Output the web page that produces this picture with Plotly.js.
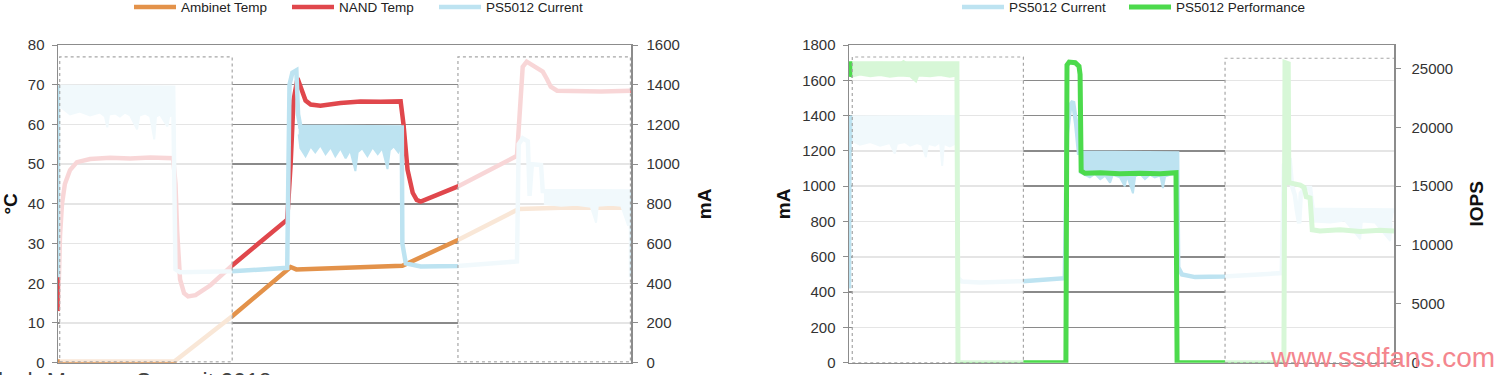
<!DOCTYPE html>
<html>
<head>
<meta charset="utf-8">
<script src="https://cdn.plot.ly/plotly-3.0.1.min.js"></script>
<style>html,body{margin:0;padding:0;background:#fff;}#chart{width:1499px;height:375px;}</style>
</head>
<body>
<div id="chart"></div>
<script>
// ---------- Left chart: temperatures (°C) and controller current (mA) ----------
const ambT = [0, 7.3, 14.3, 20.3, 30.4, 40.6, 41.6, 51.0, 60.1, 69.8, 80.4, 87.8, 100];
const ambV = [0.3, 0.2, 0.3, 0.3, 11.7, 24.1, 23.5, 24.0, 24.4, 30.9, 38.7, 39.0, 39.0];

const nandT = [0, 0.1, 0.35, 0.7, 1.2, 2.1, 3.3, 5.6, 9.1, 12.6, 16.1, 20.1, 20.5, 20.8, 21.3, 22.0, 22.7, 24.0, 26.6, 30.4,
  40.0, 40.6, 41.1, 41.8, 42.5, 43.2, 44.1, 45.8, 49.3, 52.8, 56.3, 59.8, 60.3, 61.0, 61.9, 62.6, 63.3, 65.9, 69.8,
  80.1, 80.6, 81.1, 81.8, 83.4, 84.6, 85.3, 86.0, 87.1, 94.8, 100];
const nandV = [13, 22, 32, 40, 45, 48.5, 50.5, 51.3, 51.6, 51.4, 51.7, 51.5, 45, 33, 21, 17.5, 16.7, 17.0, 19.5, 24.5,
  36, 50, 66, 71.6, 68.5, 66, 65, 64.7, 65.4, 65.8, 65.7, 65.8, 60, 48.6, 42.8, 41, 40.6, 42, 44.4,
  52.1, 65, 74.5, 75.8, 74.5, 73.3, 71.5, 69.5, 68.5, 68.3, 68.5];

const curT = [0, 0.1, 0.35, 20.1, 20.3, 20.5, 21.3, 30.4, 40.0, 40.4, 40.9, 41.6, 41.9, 42.3, 60.0, 60.1, 60.7, 63.3, 69.8,
  80.1, 80.4, 81.1, 82.0, 82.2, 82.3, 82.7, 84.3, 84.6, 100, 100];
const curV = [430, 1380, 1388, 1385, 900, 470, 455, 460, 478, 1400, 1460, 1472, 1250, 1188, 1185, 600, 500, 485, 487,
  510, 1100, 1130, 1115, 1000, 840, 1000, 995, 865, 862, 430];

// noise envelopes of the current trace (lower / upper edge)
const curBandA_loT = [0.35, 2.1, 3.8, 5.6, 7.3, 8.2, 8.6, 8.9, 10.0, 10.8, 11.7, 12.6, 13.8, 14.2, 15.2, 16.1, 16.8, 17.1, 17.8, 19.1, 19.4, 20.1];
const curBandA_loV = [1290, 1250, 1265, 1245, 1260, 1240, 1185, 1250, 1255, 1240, 1260, 1245, 1175, 1245, 1255, 1240, 1125, 1240, 1250, 1190, 1240, 1250];
const curBandA_hiT = [0.35, 7.3, 14.3, 20.1];
const curBandA_hiV = [1388, 1385, 1390, 1385];

const curBandB_loT = [42.0, 42.3, 43.2, 44.1, 44.9, 45.8, 46.7, 47.6, 48.4, 49.3, 50.2, 51.0, 51.9, 52.3, 53.1, 54.0, 54.9, 55.8, 56.6, 57.5, 57.9, 58.6, 59.4, 60.0];
const curBandB_loV = [1150, 1080, 1040, 1090, 1060, 1095, 1050, 1085, 1040, 1080, 1030, 1070, 965, 1060, 1080, 1040, 1085, 1050, 1080, 975, 1070, 1090, 1060, 1100];
const curBandB_hiT = [42.0, 46, 51, 56, 60.0];
const curBandB_hiV = [1188, 1185, 1190, 1185, 1185];

const curBandC_loT = [84.8, 87.8, 90.4, 93.0, 93.9, 94.2, 96.5, 98.3, 99.5, 99.8];
const curBandC_loV = [800, 790, 795, 785, 705, 790, 795, 790, 690, 790];
const curBandC_hiT = [84.8, 92, 100];
const curBandC_hiV = [866, 862, 862];

// ---------- Right chart: controller current (mA) and performance (IOPS) ----------
const rCurT = [0, 0.1, 0.4, 19.8, 20.0, 20.7, 24.0, 31.9, 39.6, 40.0, 40.6, 41.1, 41.7, 42.2, 60.2, 60.4, 61.1, 63.5, 68.8,
  79.4, 79.8, 80.9, 81.3, 81.8, 82.2, 82.6, 82.9, 83.7, 84.6, 85.1, 100];
const rCurV = [420, 1380, 1388, 1390, 480, 460, 455, 462, 479, 1300, 1460, 1480, 1350, 1190, 1185, 540, 500, 485, 488,
  508, 1120, 1140, 1000, 950, 860, 790, 960, 990, 990, 866, 862];

const rBandA_loT = [0.4, 2.0, 3.9, 5.7, 7.5, 8.4, 8.8, 10.3, 11.2, 12.5, 13.4, 14.1, 14.5, 15.8, 16.7, 17.1, 17.4, 18.5, 19.8];
const rBandA_loV = [1260, 1235, 1250, 1230, 1245, 1185, 1240, 1250, 1230, 1245, 1235, 1165, 1240, 1230, 1250, 1115, 1240, 1225, 1245];
const rBandA_hiT = [0.4, 10, 19.8];
const rBandA_hiV = [1388, 1385, 1390];

const rBandB_loT = [42.2, 44.2, 45.1, 46.1, 47.0, 47.9, 48.4, 49.7, 50.6, 51.0, 52.1, 52.5, 53.4, 54.3, 55.2, 56.1, 57.1, 57.6, 58.0, 58.9, 60.2];
const rBandB_loV = [1080, 1050, 1070, 1040, 1060, 1020, 1065, 1050, 1000, 1060, 960, 1055, 1070, 1040, 1065, 1050, 1060, 990, 1055, 1065, 1070];
const rBandB_hiT = [42.2, 50, 60.2];
const rBandB_hiV = [1190, 1185, 1185];

const rBandC_loT = [85.1, 88.3, 91.0, 93.8, 94.1, 96.5, 99.3, 99.6];
const rBandC_loV = [800, 795, 805, 700, 800, 795, 690, 790];
const rBandC_hiT = [85.1, 92, 100];
const rBandC_hiV = [866, 862, 862];

const perfT = [0, 0.4, 19.8, 20.0, 39.8, 40.0, 40.4, 41.5, 42.2, 42.4, 42.6, 43.3, 46.1, 49.7, 53.4, 57.1, 60.0, 60.2,
  79.8, 80.0, 80.6, 80.7, 81.8, 82.8, 83.5, 83.9, 84.6, 85.0, 86.4, 90.1, 93.8, 97.4, 100];
const perfV = [24300, 25400, 25400, 0, 0, 25300, 25550, 25500, 25200, 24500, 16300, 16100, 16150, 16050, 16100, 16050, 16150, 0,
  0, 25500, 25400, 15300, 15200, 15100, 14900, 14100, 14000, 11300, 11200, 11300, 11150, 11250, 11200];

const perfBand_loT = [0.4, 2.0, 3.9, 5.7, 7.5, 9.4, 11.2, 12.3, 12.7, 14.9, 16.7, 18.5, 19.8];
const perfBand_loV = [24300, 24500, 24350, 24450, 24300, 24400, 24350, 23900, 24400, 24350, 24450, 24300, 24400];
const perfBand_hiT = [0.4, 5.7, 9.4, 10.0, 10.6, 19.8];
const perfBand_hiV = [25450, 25500, 25450, 25650, 25450, 25450];

// tick labels / names
const tempTicks = [0, 10, 20, 30, 40, 50, 60, 70, 80];
const mATicksL = [0, 200, 400, 600, 800, 1000, 1200, 1400, 1600];
const mATicksR = [0, 200, 400, 600, 800, 1000, 1200, 1400, 1600, 1800];
const iopsTicks = [0, 5000, 10000, 15000, 20000, 25000];
const iopsLabels = ['0', '5000', '10000', '15000', '20000', '25000'];
const names = {amb: 'Ambinet Temp', nand: 'NAND Temp', cur: 'PS5012 Current', perf: 'PS5012 Performance'};

// ---------- styling ----------
const C_AMB = '#E3924A', C_NAND = '#E0474C', C_CUR = '#BDE3F1', C_PERF = '#4CDA4C';
const FONT = 'Liberation Sans, Arial, sans-serif';
const GRID = '#8a8a8a', AXL = '#8c8c8c';

function band(xl, yl, xh, yh, color, xa, ya) {
  return [
    {x: xl, y: yl, type: 'scatter', mode: 'lines', line: {color: color, width: 2}, showlegend: false, hoverinfo: 'skip', xaxis: xa, yaxis: ya},
    {x: xh, y: yh, type: 'scatter', mode: 'lines', line: {color: color, width: 2}, fill: 'tonexty', fillcolor: color, showlegend: false, hoverinfo: 'skip', xaxis: xa, yaxis: ya}
  ];
}

const data = [
  ...band(curBandA_loT, curBandA_loV, curBandA_hiT, curBandA_hiV, C_CUR, 'x', 'y2'),
  ...band(curBandB_loT, curBandB_loV, curBandB_hiT, curBandB_hiV, C_CUR, 'x', 'y2'),
  ...band(curBandC_loT, curBandC_loV, curBandC_hiT, curBandC_hiV, C_CUR, 'x', 'y2'),
  {x: curT, y: curV, name: names.cur, type: 'scatter', mode: 'lines', line: {color: C_CUR, width: 4.5}, xaxis: 'x', yaxis: 'y2', legend: 'legend3'},
  {x: ambT, y: ambV, name: names.amb, type: 'scatter', mode: 'lines', line: {color: C_AMB, width: 4.5}, xaxis: 'x', yaxis: 'y', legend: 'legend'},
  {x: nandT, y: nandV, name: names.nand, type: 'scatter', mode: 'lines', line: {color: C_NAND, width: 4.5}, xaxis: 'x', yaxis: 'y', legend: 'legend2'},

  ...band(rBandA_loT, rBandA_loV, rBandA_hiT, rBandA_hiV, C_CUR, 'x2', 'y3'),
  ...band(rBandB_loT, rBandB_loV, rBandB_hiT, rBandB_hiV, C_CUR, 'x2', 'y3'),
  ...band(rBandC_loT, rBandC_loV, rBandC_hiT, rBandC_hiV, C_CUR, 'x2', 'y3'),
  {x: rCurT, y: rCurV, name: names.cur, type: 'scatter', mode: 'lines', line: {color: C_CUR, width: 4.5}, xaxis: 'x2', yaxis: 'y3', legend: 'legend4'},
  ...band(perfBand_loT, perfBand_loV, perfBand_hiT, perfBand_hiV, C_PERF, 'x2', 'y4'),
  {x: perfT, y: perfV, name: names.perf, type: 'scatter', mode: 'lines', line: {color: C_PERF, width: 5}, xaxis: 'x2', yaxis: 'y4', legend: 'legend5'}
];

const yDom = [1 - 362.7 / 375, 1 - 45 / 375];
const tickFont = {family: FONT, size: 15, color: '#333'};
const titleFont = {family: FONT, size: 19, color: '#111', weight: 'bold'};

function fade(xref, yref, x0, x1, y0, y1) {
  return {type: 'rect', xref: xref, yref: yref, x0: x0, x1: x1, y0: y0, y1: y1, layer: 'above',
    fillcolor: 'rgba(255,255,255,0.78)', line: {color: '#a6a6a6', width: 1.2, dash: 'dot'}};
}

const legendFont = {family: FONT, size: 13.5, color: '#222'};
function leg(leftPx) {
  return {orientation: 'h', x: leftPx / 1499, xanchor: 'left', y: 1.022, yanchor: 'top', font: legendFont,
    bgcolor: 'rgba(0,0,0,0)', itemwidth: 42};
}

const layout = {
  width: 1499, height: 375,
  margin: {l: 0, r: 0, t: 0, b: 0, autoexpand: false},
  paper_bgcolor: '#fff', plot_bgcolor: '#fff',
  font: {family: FONT, color: '#333'},
  xaxis: {domain: [58 / 1499, 631 / 1499], range: [0, 100], anchor: 'y', showticklabels: false, ticks: '', showgrid: false, zeroline: false,
    showline: true, mirror: true, linecolor: AXL, linewidth: 1.5},
  yaxis: {domain: yDom, range: [0, 80], tickvals: tempTicks, anchor: 'x', ticks: 'outside', ticklen: 5, tickcolor: AXL, tickfont: tickFont,
    ticklabelstandoff: 4, showline: true, linecolor: AXL, linewidth: 1.5, showgrid: true, gridcolor: GRID, gridwidth: 1.5, zeroline: false,
    title: {text: '°C', font: titleFont, standoff: 5}},
  yaxis2: {overlaying: 'y', side: 'right', anchor: 'x', range: [0, 1600], tickvals: mATicksL, ticks: 'outside', ticklen: 5, tickcolor: AXL,
    tickfont: tickFont, ticklabelstandoff: 6, showline: true, linecolor: AXL, linewidth: 1.5, showgrid: false, zeroline: false,
    title: {text: 'mA', font: titleFont, standoff: 19}},
  xaxis2: {domain: [849 / 1499, 1394 / 1499], range: [0, 100], anchor: 'y3', showticklabels: false, ticks: '', showgrid: false, zeroline: false,
    showline: true, mirror: true, linecolor: AXL, linewidth: 1.5},
  yaxis3: {domain: yDom, range: [0, 1800], tickvals: mATicksR, anchor: 'x2', ticks: 'outside', ticklen: 5, tickcolor: AXL, tickfont: tickFont,
    ticklabelstandoff: 4, showline: true, linecolor: AXL, linewidth: 1.5, showgrid: true, gridcolor: GRID, gridwidth: 1.5, zeroline: false,
    title: {text: 'mA', font: titleFont, standoff: 6}},
  yaxis4: {overlaying: 'y3', side: 'right', anchor: 'x2', range: [0, 27000], tickvals: iopsTicks, ticktext: iopsLabels, ticks: 'outside', ticklen: 5,
    tickcolor: AXL, tickfont: tickFont, ticklabelstandoff: 8, showline: true, linecolor: AXL, linewidth: 1.5, showgrid: false, zeroline: false,
    title: {text: 'IOPS', font: titleFont, standoff: 17}},
  legend: leg(129),
  legend2: leg(287),
  legend3: leg(434),
  legend4: leg(957),
  legend5: leg(1124),
  shapes: [
    fade('x', 'y', 0.3, 30.4, 0.2, 77.0),
    fade('x', 'y', 69.8, 99.9, 0.2, 77.0),
    fade('x2', 'y3', 0.6, 32.0, 0.2, 1732),
    fade('x2', 'y3', 69.0, 100.2, 0.2, 1725)
  ],
  annotations: [
    {xref: 'paper', yref: 'paper', x: 1382 / 1499, y: 1 - 357 / 375, xanchor: 'center', yanchor: 'middle', showarrow: false,
      text: 'www.ssdfans.com', font: {family: FONT, size: 28, color: '#F4868E'}},
    {xref: 'paper', yref: 'paper', x: -18 / 1499, y: 1 - 367 / 375, xanchor: 'left', yanchor: 'top', showarrow: false,
      text: 'Flash Memory Summit 2018', font: {family: FONT, size: 23, color: '#444'}}
  ]
};

Plotly.newPlot('chart', data, layout, {displayModeBar: false, staticPlot: true});
</script>
</body>
</html>
